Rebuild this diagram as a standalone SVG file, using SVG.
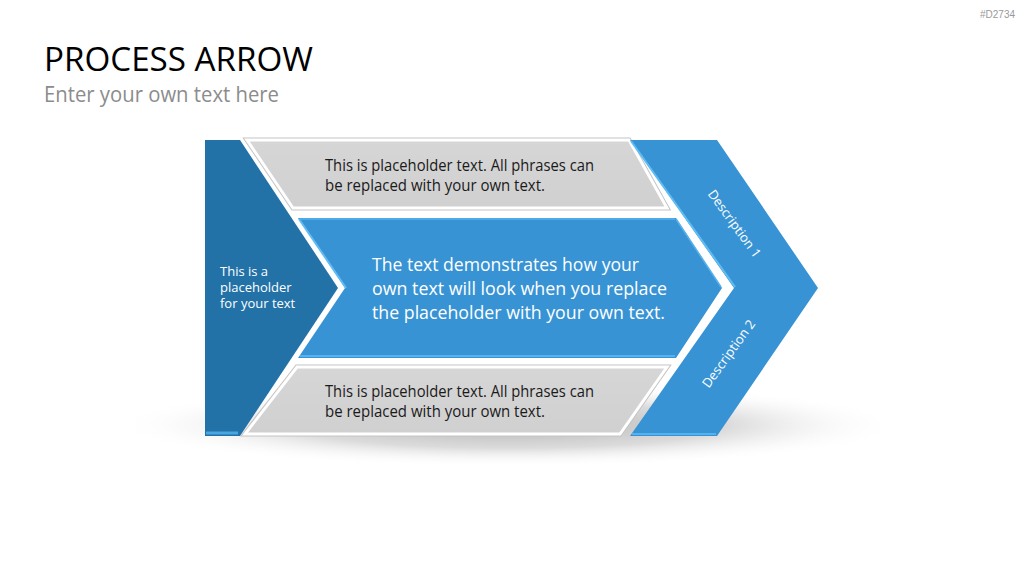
<svg xmlns="http://www.w3.org/2000/svg" width="1024" height="576" viewBox="0 0 1024 576">
  <defs>
    <radialGradient id="shadowGrad" cx="0.5" cy="0.5" r="0.5">
      <stop offset="0" stop-color="#b4b4b4" stop-opacity="1"/>
      <stop offset="0.55" stop-color="#d2d2d2" stop-opacity="0.8"/>
      <stop offset="1" stop-color="#ffffff" stop-opacity="0"/>
    </radialGradient>
    <linearGradient id="grayGrad" x1="0" y1="0" x2="0" y2="1">
      <stop offset="0" stop-color="#d6d6d6"/>
      <stop offset="1" stop-color="#d0d0d0"/>
    </linearGradient>
  </defs>
  <style>
    .title { font-family: "Open Sans", "Liberation Sans", sans-serif; font-size: 33px; fill: #000000; }
    .sub { font-family: "Open Sans", "Liberation Sans", sans-serif; font-size: 21px; fill: #8c8c8c; }
    .tag { font-family: "Liberation Sans", sans-serif; font-size: 10px; fill: #9a9a9a; }
    .gtxt { font-family: "Open Sans", "Liberation Sans", sans-serif; font-size: 15.5px; fill: #1a1a1a; }
    .ctxt { font-family: "Open Sans", "Liberation Sans", sans-serif; font-size: 19px; fill: #ffffff; }
    .ltxt { font-family: "Open Sans", "Liberation Sans", sans-serif; font-size: 13px; fill: #ffffff; }
    .dtxt { font-family: "Open Sans", "Liberation Sans", sans-serif; font-size: 13px; fill: #ffffff; }
    .grayOuter { fill: none; stroke: #c4c4c4; stroke-width: 5; stroke-linejoin: miter; }
    .grayShape { fill: url(#grayGrad); stroke: #ffffff; stroke-width: 3; stroke-linejoin: miter; }
    .hl { fill: none; stroke: #5fbdf3; stroke-width: 2; }
  </style>
  <rect x="0" y="0" width="1024" height="576" fill="#ffffff"/>
  <text class="tag" x="980" y="18" textLength="35" lengthAdjust="spacingAndGlyphs">#D2734</text>
  <text class="title" x="44" y="71" textLength="269" lengthAdjust="spacingAndGlyphs">PROCESS ARROW</text>
  <text class="sub" x="44" y="102" textLength="235" lengthAdjust="spacingAndGlyphs">Enter your own text here</text>

  <ellipse cx="510" cy="425" rx="395" ry="42" fill="url(#shadowGrad)"/>

  <g id="left-block">
    <path d="M205,140 L240,140 L338,288 L240,436 L205,436 Z" fill="#2271a7"/>
    <path d="M206,433 L238,433" stroke="#4aa6e2" stroke-width="3"/>
    <text class="ltxt"><tspan x="220" y="276">This is a</tspan><tspan x="220" y="292">placeholder</tspan><tspan x="220" y="308">for your text</tspan></text>
  </g>

  <g id="top-bar">
    <path class="grayOuter" d="M247,140 L629,140 L667,208 L293,208 Z"/>
    <path class="grayShape" d="M247,140 L629,140 L667,208 L293,208 Z"/>
    <text class="gtxt"><tspan x="325" y="171" textLength="269" lengthAdjust="spacingAndGlyphs">This is placeholder text. All phrases can</tspan><tspan x="325" y="191" textLength="220" lengthAdjust="spacingAndGlyphs">be replaced with your own text.</tspan></text>
  </g>

  <g id="center-arrow">
    <path d="M298,218 L676,218 L722,288 L676,358 L298,358 L345,288 Z" fill="#3893d4"/>
    <path class="hl" d="M299,219 L346,288"/>
    <path d="M300,219 L675,219" stroke="#56b2ee" stroke-width="1.5"/>
    <path d="M300,356 L675,356" stroke="#56b2ee" stroke-width="2"/>
    <path d="M676,219 L721,287" stroke="#56b2ee" stroke-width="1.5"/>
    <text class="ctxt"><tspan x="372" y="271" textLength="267" lengthAdjust="spacingAndGlyphs">The text demonstrates how your</tspan><tspan x="372" y="295" textLength="295" lengthAdjust="spacingAndGlyphs">own text will look when you replace</tspan><tspan x="372" y="319" textLength="293" lengthAdjust="spacingAndGlyphs">the placeholder with your own text.</tspan></text>
  </g>

  <g id="bottom-bar">
    <path class="grayOuter" d="M297,367 L667,367 L620,434 L245,434 Z"/>
    <path class="grayShape" d="M297,367 L667,367 L620,434 L245,434 Z"/>
    <text class="gtxt"><tspan x="325" y="397" textLength="269" lengthAdjust="spacingAndGlyphs">This is placeholder text. All phrases can</tspan><tspan x="325" y="417" textLength="220" lengthAdjust="spacingAndGlyphs">be replaced with your own text.</tspan></text>
  </g>

  <g id="right-chevron">
    <path d="M630,140 L717,140 L818,288 L717,436 L630,436 L734,288 Z" fill="#3893d4"/>
    <path class="hl" d="M631,141 L735,287"/>
    <path d="M632,434 L716,434" stroke="#56b2ee" stroke-width="2"/>
    <text class="dtxt" transform="translate(734,224) rotate(54)" x="0" y="4" text-anchor="middle">Description 1</text>
    <text class="dtxt" transform="translate(729,354) rotate(-54)" x="0" y="4" text-anchor="middle">Description 2</text>
  </g>

  <g id="connectors"></g>
</svg>
